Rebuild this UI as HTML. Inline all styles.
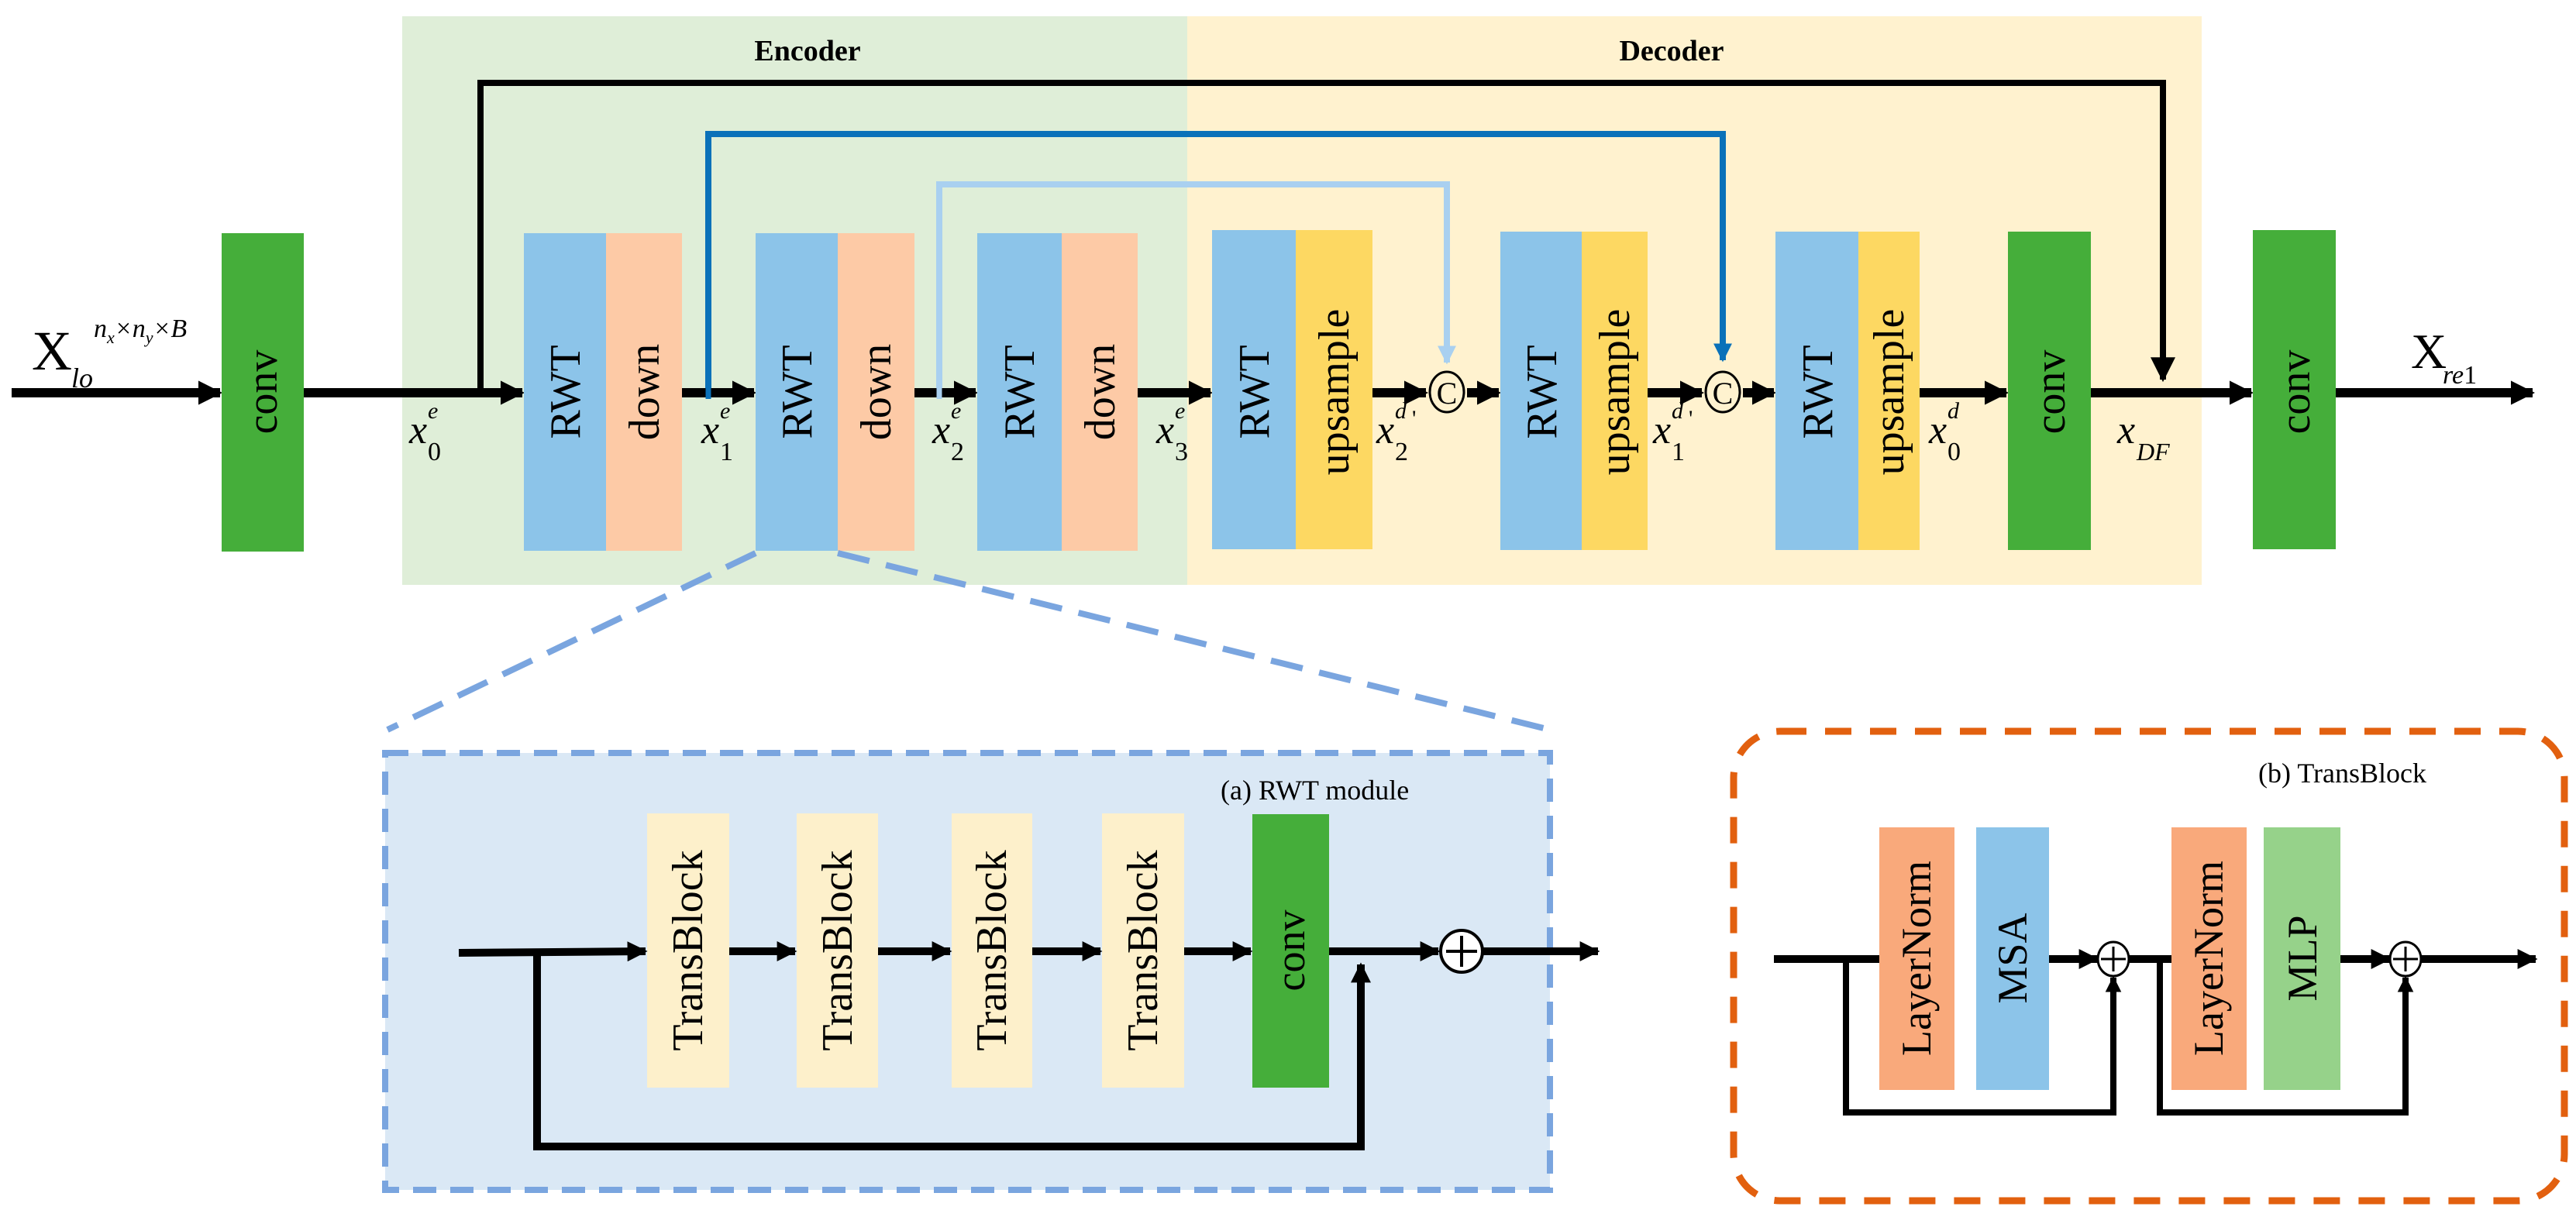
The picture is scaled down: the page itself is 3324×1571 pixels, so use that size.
<!DOCTYPE html>
<html><head><meta charset="utf-8"><style>
html,body{margin:0;padding:0;background:#fff;}
svg{display:block;font-family:"Liberation Serif",serif;}
</style></head><body>
<svg width="3324" height="1571" viewBox="0 0 3324 1571" xmlns="http://www.w3.org/2000/svg">
<defs>
<marker id="ah" viewBox="0 0 10 10" refX="9" refY="5" markerWidth="2.6" markerHeight="2.6" orient="auto" markerUnits="strokeWidth"><path d="M0,0 L10,5 L0,10 z" fill="#000"/></marker>
<marker id="ahb" viewBox="0 0 10 10" refX="9" refY="5" markerWidth="3" markerHeight="3" orient="auto" markerUnits="strokeWidth"><path d="M0,0 L10,5 L0,10 z" fill="#0a71b9"/></marker>
<marker id="ahl" viewBox="0 0 10 10" refX="9" refY="5" markerWidth="3" markerHeight="3" orient="auto" markerUnits="strokeWidth"><path d="M0,0 L10,5 L0,10 z" fill="#a9d0f0"/></marker>
<marker id="aht" viewBox="0 0 10 10" refX="9" refY="5" markerWidth="4" markerHeight="4" orient="auto" markerUnits="strokeWidth"><path d="M0,0 L10,5 L0,10 z" fill="#000"/></marker>
</defs>
<rect x="519" y="21" width="1013" height="734" fill="#dfeed8"/>
<rect x="1532" y="21" width="1309" height="734" fill="#fff2cf"/>
<text x="1042" y="78" font-size="38" font-weight="bold" text-anchor="middle">Encoder</text>
<text x="2157" y="78" font-size="38" font-weight="bold" text-anchor="middle">Decoder</text>

<polyline points="620,507 620,107 2791,107 2791,490" fill="none" stroke="#000" stroke-width="8" marker-end="url(#aht)"/>
<polyline points="914,510 914,173 2223,173 2223,465" fill="none" stroke="#0a71b9" stroke-width="8" marker-end="url(#ahb)"/>
<polyline points="1212,510 1212,238 1867,238 1867,468" fill="none" stroke="#a9d0f0" stroke-width="8" marker-end="url(#ahl)"/>

<g stroke="#000" stroke-width="12" fill="none">
<line x1="15" y1="507" x2="284" y2="507" marker-end="url(#ah)"/>
<line x1="392" y1="507" x2="674" y2="507" marker-end="url(#ah)"/>
<line x1="880" y1="507" x2="973" y2="507" marker-end="url(#ah)"/>
<line x1="1180" y1="507" x2="1259" y2="507" marker-end="url(#ah)"/>
<line x1="1468" y1="507" x2="1562" y2="507" marker-end="url(#ah)"/>
<line x1="1771" y1="507" x2="1840" y2="507" marker-end="url(#ah)"/>
<line x1="1893" y1="507" x2="1934" y2="507" marker-end="url(#ah)"/>
<line x1="2126" y1="507" x2="2196" y2="507" marker-end="url(#ah)"/>
<line x1="2249" y1="507" x2="2289" y2="507" marker-end="url(#ah)"/>
<line x1="2477" y1="507" x2="2589" y2="507" marker-end="url(#ah)"/>
<line x1="2698" y1="507" x2="2905" y2="507" marker-end="url(#ah)"/>
<line x1="3014" y1="507" x2="3268" y2="507" marker-end="url(#ah)"/>
</g>
<line x1="914" y1="470" x2="914" y2="515" stroke="#0a71b9" stroke-width="7"/>
<line x1="1212" y1="470" x2="1212" y2="515" stroke="#a9d0f0" stroke-width="7"/>

<g>
<rect x="286" y="301" width="106" height="411" fill="#45ae3a"/>
<rect x="676" y="301" width="106" height="410" fill="#8cc4e9"/><rect x="782" y="301" width="98" height="410" fill="#fdcaa6"/>
<rect x="975" y="301" width="106" height="410" fill="#8cc4e9"/><rect x="1081" y="301" width="99" height="410" fill="#fdcaa6"/>
<rect x="1261" y="301" width="109" height="410" fill="#8cc4e9"/><rect x="1370" y="301" width="98" height="410" fill="#fdcaa6"/>
<rect x="1564" y="297" width="108" height="412" fill="#8cc4e9"/><rect x="1672" y="297" width="99" height="412" fill="#fdd862"/>
<rect x="1936" y="299" width="105" height="411" fill="#8cc4e9"/><rect x="2041" y="299" width="85" height="411" fill="#fdd862"/>
<rect x="2291" y="299" width="107" height="411" fill="#8cc4e9"/><rect x="2398" y="299" width="79" height="411" fill="#fdd862"/>
<rect x="2591" y="299" width="107" height="411" fill="#45ae3a"/>
<rect x="2907" y="297" width="107" height="412" fill="#45ae3a"/>
</g>
<g font-size="56" text-anchor="middle">
<text transform="translate(357,506) rotate(-90)">conv</text>
<text transform="translate(748,506) rotate(-90)">RWT</text>
<text transform="translate(850,506) rotate(-90)">down</text>
<text transform="translate(1047,506) rotate(-90)">RWT</text>
<text transform="translate(1149,506) rotate(-90)">down</text>
<text transform="translate(1334,506) rotate(-90)">RWT</text>
<text transform="translate(1438,506) rotate(-90)">down</text>
<text transform="translate(1637,506) rotate(-90)">RWT</text>
<text transform="translate(1740,506) rotate(-90)">upsample</text>
<text transform="translate(2008,506) rotate(-90)">RWT</text>
<text transform="translate(2102,506) rotate(-90)">upsample</text>
<text transform="translate(2364,506) rotate(-90)">RWT</text>
<text transform="translate(2456,506) rotate(-90)">upsample</text>
<text transform="translate(2664,506) rotate(-90)">conv</text>
<text transform="translate(2980,506) rotate(-90)">conv</text>
</g>

<g fill="#fff2cf" stroke="#000" stroke-width="3">
<ellipse cx="1867" cy="506" rx="22" ry="26"/>
<ellipse cx="2223" cy="506" rx="22" ry="26"/>
</g>
<g font-size="40" text-anchor="middle"><text x="1867" y="521">C</text><text x="2223" y="521">C</text></g>

<g font-style="italic" font-size="52">
<text x="41" y="477" font-style="normal" font-size="72">X</text>
<text x="92" y="500" font-size="36">lo</text>
<text x="121" y="435" font-size="34">n<tspan font-size="22" dy="8">x</tspan><tspan dy="-8">×n</tspan><tspan font-size="22" dy="8">y</tspan><tspan dy="-8">×B</tspan></text>
<text x="528" y="572">x</text><text x="552" y="594" font-size="34" font-style="normal">0</text><text x="552" y="540" font-size="30">e</text>
<text x="905" y="572">x</text><text x="929" y="594" font-size="34" font-style="normal">1</text><text x="929" y="540" font-size="30">e</text>
<text x="1203" y="572">x</text><text x="1227" y="594" font-size="34" font-style="normal">2</text><text x="1227" y="540" font-size="30">e</text>
<text x="1492" y="572">x</text><text x="1516" y="594" font-size="34" font-style="normal">3</text><text x="1516" y="540" font-size="30">e</text>
<text x="1776" y="572">x</text><text x="1800" y="594" font-size="34" font-style="normal">2</text><text x="1800" y="540" font-size="30">d</text><text x="1822" y="550" font-size="30" font-style="normal">'</text>
<text x="2133" y="572">x</text><text x="2157" y="594" font-size="34" font-style="normal">1</text><text x="2157" y="540" font-size="30">d</text><text x="2179" y="550" font-size="30" font-style="normal">'</text>
<text x="2489" y="572">x</text><text x="2513" y="594" font-size="34" font-style="normal">0</text><text x="2513" y="540" font-size="30">d</text>
<text x="2732" y="572">x</text><text x="2757" y="594" font-size="32">DF</text>
<text x="3111" y="475" font-style="normal" font-size="64">X</text><text x="3152" y="495" font-size="34">re<tspan font-style="normal">1</tspan></text>
</g>

<line x1="975" y1="714" x2="500" y2="942" stroke="#7aa5df" stroke-width="8" stroke-dasharray="42,22"/>
<line x1="1081" y1="714" x2="2000" y2="942" stroke="#7aa5df" stroke-width="8" stroke-dasharray="42,22"/>

<rect x="497" y="972" width="1503" height="564" fill="#dae8f5" stroke="#7aa5df" stroke-width="8" stroke-dasharray="30,18"/>
<text x="1575" y="1032" font-size="36">(a)  RWT module</text>
<g fill="#fdf0cb">
<rect x="835" y="1050" width="106" height="354"/><rect x="1028" y="1050" width="105" height="354"/>
<rect x="1228" y="1050" width="104" height="354"/><rect x="1422" y="1050" width="106" height="354"/>
</g>
<rect x="1616" y="1051" width="99" height="353" fill="#45ae3a"/>
<g font-size="56" text-anchor="middle">
<text transform="translate(906,1227) rotate(-90)">TransBlock</text>
<text transform="translate(1099,1227) rotate(-90)">TransBlock</text>
<text transform="translate(1298,1227) rotate(-90)">TransBlock</text>
<text transform="translate(1493,1227) rotate(-90)">TransBlock</text>
<text transform="translate(1683,1227) rotate(-90)" font-size="54">conv</text>
</g>
<g stroke="#000" stroke-width="10" fill="none">
<line x1="592" y1="1230" x2="833" y2="1228" marker-end="url(#ah)"/>
<line x1="941" y1="1228" x2="1026" y2="1228" marker-end="url(#ah)"/>
<line x1="1133" y1="1228" x2="1226" y2="1228" marker-end="url(#ah)"/>
<line x1="1332" y1="1228" x2="1420" y2="1228" marker-end="url(#ah)"/>
<line x1="1528" y1="1228" x2="1614" y2="1228" marker-end="url(#ah)"/>
<line x1="1715" y1="1228" x2="1856" y2="1228" marker-end="url(#ah)"/>
<line x1="1914" y1="1228" x2="2062" y2="1228" marker-end="url(#ah)"/>
<polyline points="693,1230 693,1480 1756,1480 1756,1245" marker-end="url(#ah)"/>
</g>
<circle cx="1886" cy="1228" r="27" fill="#fff" stroke="#000" stroke-width="4"/>
<path d="M1886,1208 V1248 M1866,1228 H1906" stroke="#000" stroke-width="4"/>

<rect x="2237" y="944" width="1072" height="606" rx="60" ry="60" fill="none" stroke="#e2600f" stroke-width="9" stroke-dasharray="34,24"/>
<text x="2914" y="1010" font-size="36">(b)  TransBlock</text>
<rect x="2425" y="1068" width="97" height="339" fill="#f9a97b"/>
<rect x="2550" y="1068" width="94" height="339" fill="#8cc4e9"/>
<rect x="2802" y="1068" width="97" height="339" fill="#f9a97b"/>
<rect x="2921" y="1068" width="99" height="339" fill="#96d28a"/>
<g font-size="54" text-anchor="middle">
<text transform="translate(2491,1237) rotate(-90)">LayerNorm</text>
<text transform="translate(2615,1237) rotate(-90)">MSA</text>
<text transform="translate(2868,1237) rotate(-90)">LayerNorm</text>
<text transform="translate(2989,1237) rotate(-90)">MLP</text>
</g>
<g stroke="#000" stroke-width="10" fill="none">
<line x1="2289" y1="1238" x2="2425" y2="1238"/>
<line x1="2644" y1="1238" x2="2706" y2="1238" marker-end="url(#ah)"/>
<line x1="2748" y1="1238" x2="2802" y2="1238"/>
<line x1="3020" y1="1238" x2="3083" y2="1238" marker-end="url(#ah)"/>
<line x1="3125" y1="1238" x2="3272" y2="1238" marker-end="url(#ah)"/>
<polyline points="2382,1238 2382,1436 2727,1436 2727,1262" stroke-width="8" marker-end="url(#ah)"/>
<polyline points="2787,1238 2787,1436 3104,1436 3104,1262" stroke-width="8" marker-end="url(#ah)"/>
</g>
<g fill="#fff" stroke="#000" stroke-width="3">
<ellipse cx="2727" cy="1238" rx="20" ry="22"/><ellipse cx="3104" cy="1238" rx="20" ry="22"/>
</g>
<path d="M2727,1222 V1254 M2711,1238 H2743 M3104,1222 V1254 M3088,1238 H3120" stroke="#000" stroke-width="3"/>
</svg>
</body></html>
